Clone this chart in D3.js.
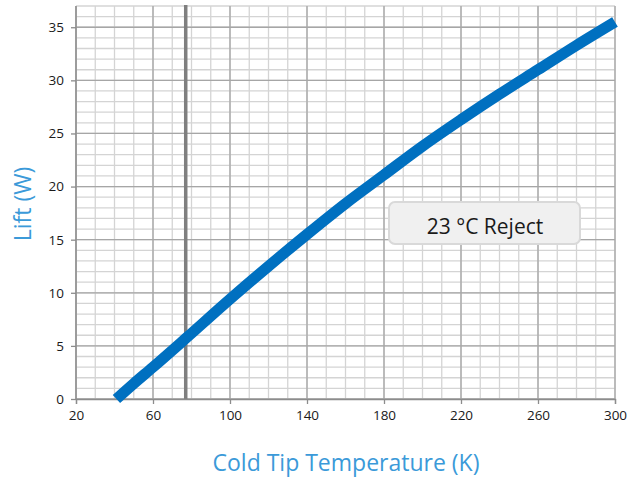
<!DOCTYPE html>
<html>
<head>
<meta charset="utf-8">
<script src="https://cdn.jsdelivr.net/npm/d3@7"></script>
<style>
  html, body { margin: 0; padding: 0; background: #fff; }
  svg { display: block; }
</style>
</head>
<body>
<svg id="chart" width="628" height="480"></svg>
<script>
// Data
const temperatureK = [41, 50, 60, 77, 100, 120, 140, 160, 180, 200, 220, 240, 260, 280, 300];
const liftW        = [0, 1.45, 3.0, 5.7, 9.4, 12.5, 15.5, 18.4, 21.1, 23.8, 26.3, 28.7, 31.0, 33.3, 35.5];
const xTicks = [20, 60, 100, 140, 180, 220, 260, 300];
const yTicks = [0, 5, 10, 15, 20, 25, 30, 35];
const markerTemp = [77];
const legendLabel = ["23 °C Reject"];
const xTitle = "Cold Tip Temperature (K)";
const yTitle = "Lift (W)";

const svg = d3.select("#chart");
const plot = { left: 76, right: 615, top: 6, bottom: 399 };

const x = d3.scaleLinear().domain([20, 300]).range([plot.left, plot.right]);
const y = d3.scaleLinear().domain([0, 37]).range([plot.bottom, plot.top]);

const font = "'Open Sans', 'Noto Sans', sans-serif";

// Minor gridlines
const g = svg.append("g");
g.selectAll("line.vminor").data(d3.range(20, 301, 10)).join("line")
  .attr("x1", d => x(d)).attr("x2", d => x(d))
  .attr("y1", plot.top).attr("y2", plot.bottom)
  .attr("stroke", "#d4d4d4").attr("stroke-width", 1.3);
g.selectAll("line.hminor").data(d3.range(0, 38, 1)).join("line")
  .attr("x1", plot.left).attr("x2", plot.right)
  .attr("y1", d => y(d)).attr("y2", d => y(d))
  .attr("stroke", "#d4d4d4").attr("stroke-width", 1.3);
// Major gridlines
svg.append("g").selectAll("line").data(xTicks).join("line")
  .attr("x1", d => x(d)).attr("x2", d => x(d))
  .attr("y1", plot.top).attr("y2", plot.bottom)
  .attr("stroke", "#a6a6a6").attr("stroke-width", 1.3);
svg.append("g").selectAll("line").data(yTicks).join("line")
  .attr("x1", plot.left).attr("x2", plot.right)
  .attr("y1", d => y(d)).attr("y2", d => y(d))
  .attr("stroke", "#a6a6a6").attr("stroke-width", 1.3);

// 77 K marker
svg.append("g").selectAll("line").data(markerTemp).join("line")
  .attr("x1", d => x(d)).attr("x2", d => x(d))
  .attr("y1", plot.top - 1).attr("y2", plot.bottom)
  .attr("stroke", "#7f7f7f").attr("stroke-width", 3.5);

// Axes
const xAxis = d3.axisBottom(x).tickValues(xTicks).tickSize(5).tickPadding(6);
const yAxis = d3.axisLeft(y).tickValues(yTicks).tickSize(5).tickPadding(7);

const gx = svg.append("g").attr("transform", `translate(0,${plot.bottom})`).call(xAxis);
const gy = svg.append("g").attr("transform", `translate(${plot.left},0)`).call(yAxis);
[gx, gy].forEach(a => {
  a.select(".domain").attr("stroke", "#8c8c8c").attr("stroke-width", 1.3);
  a.selectAll(".tick line").attr("stroke", "#8c8c8c").attr("stroke-width", 1.3);
  a.selectAll(".tick text").attr("fill", "#1a1a1a")
    .style("font-family", font).style("font-size", "13.5px");
});
gy.select(".domain").attr("d", `M0,${plot.bottom}V${plot.top}`);

// Curve
const line = d3.line().x((d, i) => x(temperatureK[i])).y(d => y(d)).curve(d3.curveMonotoneX);
svg.append("path").datum(liftW)
  .attr("d", line)
  .attr("fill", "none")
  .attr("stroke", "#0070c0")
  .attr("stroke-width", 11)
  .attr("stroke-linejoin", "round");

// Legend / annotation box
const lg = svg.append("g");
lg.append("rect")
  .attr("x", 389).attr("y", 202).attr("width", 191).attr("height", 42)
  .attr("rx", 6).attr("ry", 6)
  .attr("fill", "#f0f0f0").attr("stroke", "#d9d9d9").attr("stroke-width", 2);
lg.selectAll("text").data(legendLabel).join("text")
  .attr("x", 485).attr("y", 234)
  .attr("text-anchor", "middle")
  .attr("fill", "#1a1a1a")
  .style("font-family", font).style("font-size", "21px")
  .text(d => d);

// Axis titles
svg.append("text")
  .attr("x", 346).attr("y", 471)
  .attr("text-anchor", "middle")
  .attr("fill", "#3b9ad9")
  .style("font-family", font).style("font-size", "23px")
  .text(xTitle);
svg.append("text")
  .attr("transform", "translate(31,204) rotate(-90)")
  .attr("text-anchor", "middle")
  .attr("fill", "#3b9ad9")
  .style("font-family", font).style("font-size", "23px")
  .text(yTitle);
</script>
</body>
</html>
